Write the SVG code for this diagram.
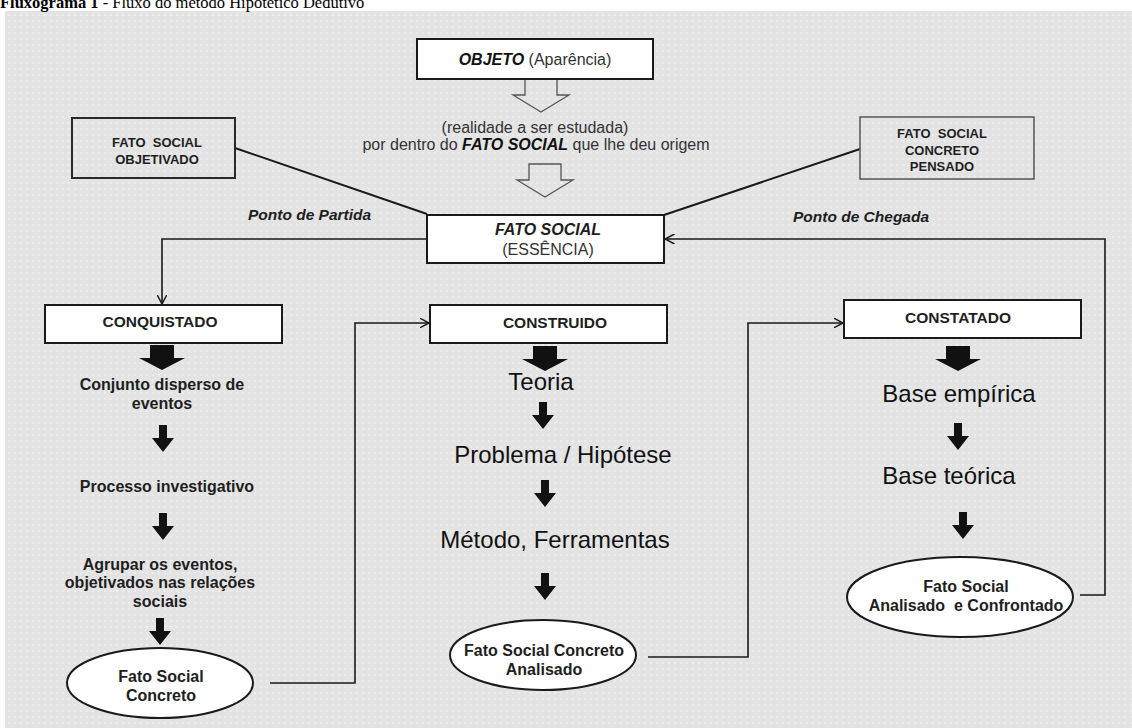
<svg xmlns="http://www.w3.org/2000/svg" width="1132" height="728" viewBox="0 0 1132 728">
<style>
  text { font-family: "Liberation Sans", Arial, sans-serif; fill: #1e1e1e; }
  .c { text-anchor: middle; }
  .b { font-weight: bold; }
  .bi { font-weight: bold; font-style: italic; }
  .s16 { font-size: 16px; }
  .s13 { font-size: 13px; }
  .big { font-size: 24px; fill: #111; }
  .reg { fill: #333; }
  .box { fill: #ffffff; stroke: #1a1a1a; stroke-width: 2; }
  .obox { fill: none; stroke: #2a2a2a; stroke-width: 2; }
  .obox2 { fill: none; stroke: #555; stroke-width: 1.5; }
  .ell { fill: #ffffff; stroke: #1a1a1a; stroke-width: 2; }
  .conn { fill: none; stroke: #1a1a1a; stroke-width: 1.6; }
  .link { fill: none; stroke: #1a1a1a; stroke-width: 2; }
  .hollow { fill: none; stroke: #555; stroke-width: 1.3; }
  .blk { fill: #111; }
</style>
<defs>
  <pattern id="dots" width="6" height="6" patternUnits="userSpaceOnUse">
    <rect width="6" height="6" fill="#e3e3e3"/>
    <circle cx="3" cy="3" r="1.3" fill="#ececec"/>
  </pattern>
  <marker id="open" viewBox="0 0 10 10" refX="9.5" refY="5" markerWidth="10" markerHeight="10" markerUnits="userSpaceOnUse" orient="auto">
    <path d="M0,0 L9.5,5 L0,10" fill="none" stroke="#1a1a1a" stroke-width="1.5"/>
  </marker>
  <path id="bigArrow" d="M-12,0 H12 V13 H23 L0,25 L-23,13 H-12 Z"/>
  <path id="smallArrow" d="M-4,0 H4 V13 H11 L0,27 L-11,13 H-4 Z"/>
  <path id="hollowArrow" d="M-16,0 H16 V16 H28 L0,33 L-28,16 H-16 Z"/>
</defs>

<rect x="0" y="0" width="1132" height="728" fill="#ffffff"/>
<rect x="5" y="11" width="1127" height="717" fill="url(#dots)"/>

<text x="0" y="7.5" style="font-family:'Liberation Serif','Times New Roman',serif; font-size:16.5px; fill:#000"><tspan font-weight="bold">Fluxograma 1</tspan> - Fluxo do método Hipotético Dedutivo</text>

<g id="connectors">
  <line class="link" x1="235" y1="148" x2="427" y2="214"/>
  <line class="link" x1="860" y1="149" x2="664" y2="215"/>
  <polyline class="conn" points="427,239 162,239 162,304" marker-end="url(#open)"/>
  <polyline class="conn" points="270,683 355,683 355,323 429,323" marker-end="url(#open)"/>
  <polyline class="conn" points="648,657 748,657 748,323 843,323" marker-end="url(#open)"/>
  <polyline class="conn" points="1080,595 1105,595 1105,239 665,239" marker-end="url(#open)"/>
  <use href="#hollowArrow" x="541" y="79" class="hollow"/>
  <use href="#hollowArrow" x="545" y="164" class="hollow"/>
  <use href="#bigArrow" x="162" y="345" class="blk"/>
  <use href="#bigArrow" x="545" y="346" class="blk"/>
  <use href="#bigArrow" x="958" y="346" class="blk"/>
  <use href="#smallArrow" x="163" y="425" class="blk"/>
  <use href="#smallArrow" x="163" y="513" class="blk"/>
  <use href="#smallArrow" x="160" y="618" class="blk"/>
  <use href="#smallArrow" x="543" y="402" class="blk"/>
  <use href="#smallArrow" x="545" y="480" class="blk"/>
  <use href="#smallArrow" x="545" y="573" class="blk"/>
  <use href="#smallArrow" x="958" y="423" class="blk"/>
  <use href="#smallArrow" x="963" y="512" class="blk"/>
</g>

<g id="objeto">
  <rect class="box" x="417" y="39" width="236" height="40"/>
  <text class="c s16 reg" x="535" y="65"><tspan class="bi" style="fill:#111">OBJETO</tspan> (Aparência)</text>
</g>

<g id="realidade">
  <text class="c s16 reg" x="535" y="133">(realidade a ser estudada)</text>
  <text class="c s16 reg" x="536" y="150">por dentro do <tspan class="bi" style="fill:#111">FATO SOCIAL</tspan> que lhe deu origem</text>
</g>

<g id="fato-social">
  <rect class="box" x="427" y="215" width="237" height="48"/>
  <text class="c s16 bi" x="548" y="235">FATO SOCIAL</text>
  <text class="c s16 reg" x="548" y="255">(ESSÊNCIA)</text>
</g>

<g id="objetivado">
  <rect class="obox" x="72" y="118" width="163" height="60"/>
  <text class="c s13 b" x="157" y="147" xml:space="preserve">FATO  SOCIAL</text>
  <text class="c s13 b" x="157" y="164">OBJETIVADO</text>
</g>

<g id="pensado">
  <rect class="obox2" x="860" y="117" width="174" height="62"/>
  <text class="c s13 b" x="942" y="138" xml:space="preserve">FATO  SOCIAL</text>
  <text class="c s13 b" x="942" y="155">CONCRETO</text>
  <text class="c s13 b" x="942" y="171">PENSADO</text>
</g>

<g id="labels">
  <text class="bi" x="248" y="220" style="font-size:15.5px">Ponto de Partida</text>
  <text class="bi" x="793" y="222" style="font-size:15.5px">Ponto de Chegada</text>
</g>

<g id="conquistado">
  <rect class="box" x="45" y="305" width="237" height="38"/>
  <text class="c b" x="160" y="327" style="font-size:15.5px">CONQUISTADO</text>
</g>
<g id="conjunto">
  <text class="c s16 b" x="162" y="390">Conjunto disperso de</text>
  <text class="c s16 b" x="162" y="409">eventos</text>
</g>
<g id="processo">
  <text class="c s16 b" x="167" y="492">Processo investigativo</text>
</g>
<g id="agrupar">
  <text class="c s16 b" x="160" y="570">Agrupar os eventos,</text>
  <text class="c s16 b" x="160" y="588">objetivados nas relações</text>
  <text class="c s16 b" x="160" y="607">sociais</text>
</g>
<g id="fato-concreto">
  <ellipse class="ell" cx="160" cy="683" rx="93" ry="35"/>
  <text class="c s16 b" x="161" y="682">Fato Social</text>
  <text class="c s16 b" x="161" y="701">Concreto</text>
</g>

<g id="construido">
  <rect class="box" x="430" y="305" width="237" height="38"/>
  <text class="c b" x="555" y="328" style="font-size:15.5px">CONSTRUIDO</text>
</g>
<g id="teoria"><text class="c big" x="541" y="390">Teoria</text></g>
<g id="problema"><text class="c big" x="563" y="463">Problema / Hipótese</text></g>
<g id="metodo"><text class="c big" x="555" y="548">Método, Ferramentas</text></g>
<g id="fato-analisado">
  <ellipse class="ell" cx="543" cy="655" rx="93" ry="35"/>
  <text class="c s16 b" x="544" y="656">Fato Social Concreto</text>
  <text class="c s16 b" x="544" y="675">Analisado</text>
</g>

<g id="constatado">
  <rect class="box" x="844" y="300" width="237" height="38"/>
  <text class="c b" x="958" y="323" style="font-size:15.5px">CONSTATADO</text>
</g>
<g id="base-empirica"><text class="c big" x="959" y="402">Base empírica</text></g>
<g id="base-teorica"><text class="c big" x="949" y="484">Base teórica</text></g>
<g id="fato-confrontado">
  <ellipse class="ell" cx="960" cy="597" rx="113" ry="40"/>
  <text class="c s16 b" x="966" y="592">Fato Social</text>
  <text class="c s16 b" x="966" y="611" xml:space="preserve">Analisado  e Confrontado</text>
</g>
</svg>
